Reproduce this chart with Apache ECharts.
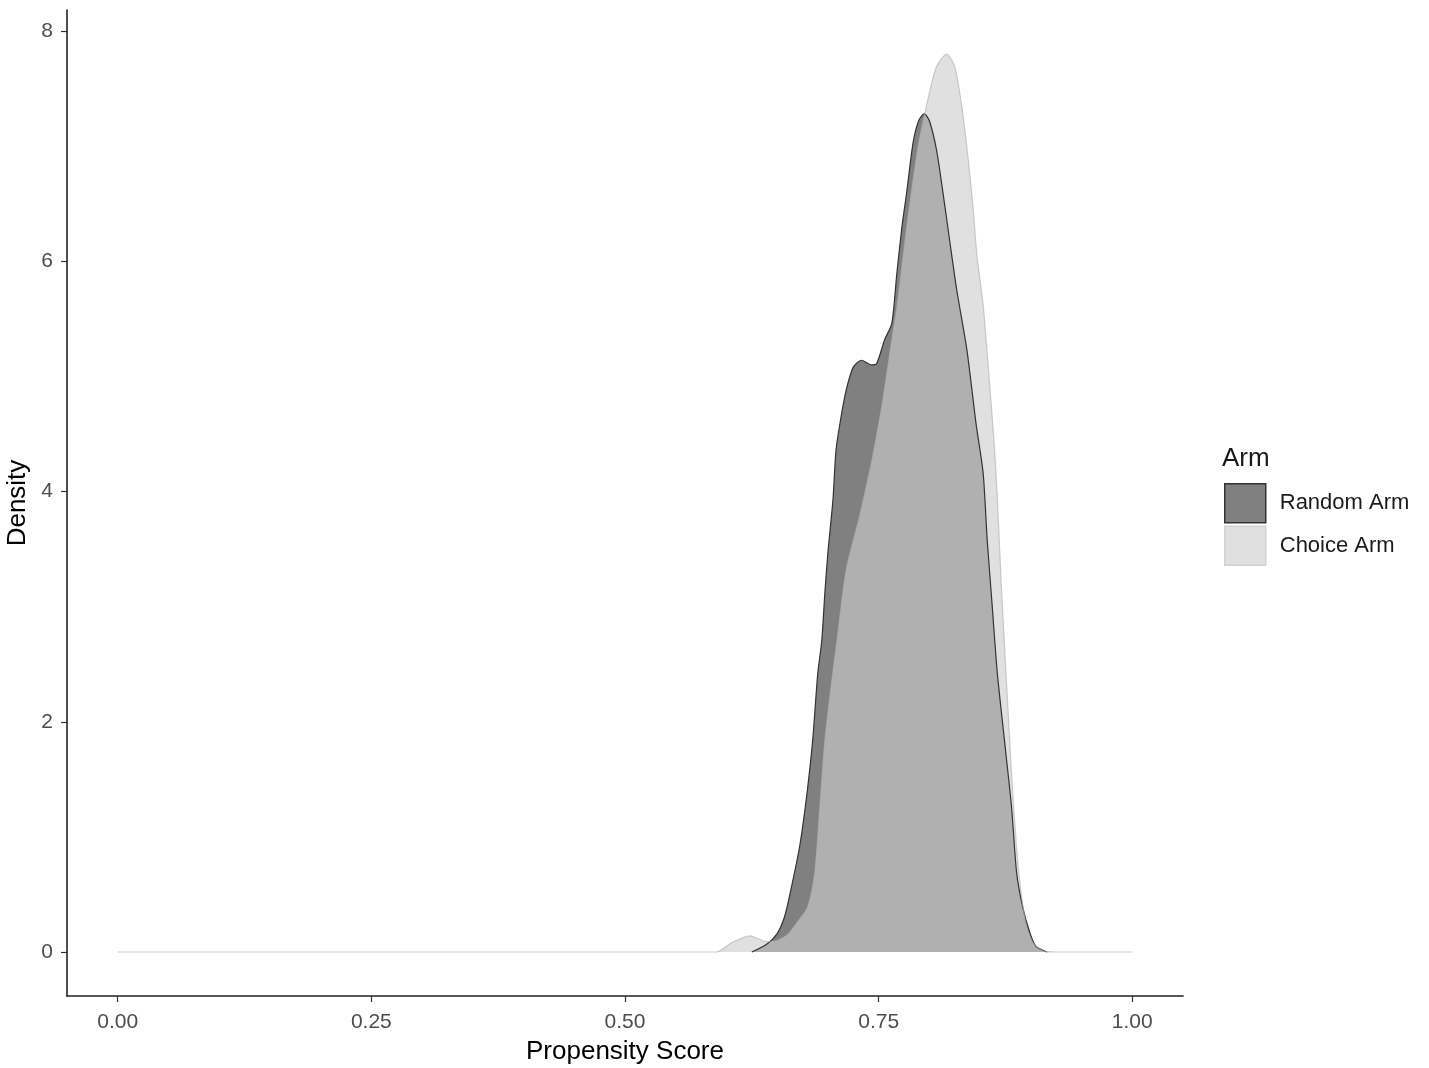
<!DOCTYPE html>
<html>
<head>
<meta charset="utf-8">
<script src="https://cdn.jsdelivr.net/npm/echarts@6/dist/echarts.min.js"></script>
<style>
  html, body { margin: 0; padding: 0; background: #fff; }
  #chart { width: 1429px; height: 1068px; }
</style>
</head>
<body>
<div id="chart"></div>
<script>
// density curves (x = propensity score, y = density)
const randomX = [0.625, 0.640, 0.650, 0.657, 0.662, 0.672, 0.679, 0.685, 0.690, 0.694, 0.697, 0.700, 0.705, 0.708, 0.713, 0.718, 0.725, 0.733, 0.743, 0.748, 0.756, 0.763, 0.768, 0.773, 0.778, 0.782, 0.785, 0.790, 0.795, 0.800, 0.807, 0.813, 0.820, 0.827, 0.837, 0.846, 0.853, 0.857, 0.862, 0.867, 0.874, 0.881, 0.886, 0.892, 0.899, 0.905, 0.916];
const randomY = [0, 0.07, 0.16, 0.30, 0.48, 0.91, 1.35, 1.84, 2.42, 2.71, 3.12, 3.47, 3.93, 4.36, 4.65, 4.88, 5.08, 5.14, 5.10, 5.11, 5.32, 5.46, 5.90, 6.30, 6.62, 6.91, 7.08, 7.23, 7.28, 7.22, 6.97, 6.62, 6.18, 5.75, 5.23, 4.59, 4.16, 3.58, 3.00, 2.42, 1.84, 1.26, 0.69, 0.39, 0.17, 0.05, 0];

const choiceX = [0, 0.590, 0.605, 0.623, 0.640, 0.650, 0.660, 0.669, 0.680, 0.687, 0.692, 0.697, 0.703, 0.709, 0.718, 0.731, 0.744, 0.754, 0.763, 0.768, 0.776, 0.784, 0.790, 0.800, 0.807, 0.817, 0.825, 0.832, 0.838, 0.843, 0.847, 0.853, 0.857, 0.861, 0.864, 0.867, 0.869, 0.872, 0.876, 0.881, 0.886, 0.890, 0.895, 0.902, 0.912, 0.925, 1.0];
const choiceY = [0, 0, 0.08, 0.14, 0.09, 0.10, 0.15, 0.25, 0.39, 0.69, 1.26, 1.84, 2.30, 2.71, 3.32, 3.78, 4.30, 4.79, 5.32, 5.60, 6.18, 6.71, 7.05, 7.46, 7.69, 7.80, 7.69, 7.34, 6.91, 6.47, 6.04, 5.62, 5.20, 4.75, 4.40, 3.95, 3.55, 3.00, 2.35, 1.55, 0.90, 0.55, 0.25, 0.08, 0.01, 0, 0];

const xTicks = [0, 0.25, 0.5, 0.75, 1];
const yTicks = [0, 2, 4, 6, 8];
const seriesNames = ['Random Arm', 'Choice Arm'];

const font = 'Arial, "Liberation Sans", sans-serif';
const zip = (xs, ys) => xs.map((x, i) => [x, ys[i]]);

const chart = echarts.init(document.getElementById('chart'));
chart.setOption({
  animation: false,
  backgroundColor: '#fff',
  grid: { left: 67, right: 246, top: 10, bottom: 72, containLabel: false, outerBoundsMode: 'none' },
  title: {
    text: 'Arm', left: 1222, top: 446, padding: 0,
    textStyle: { fontFamily: font, fontSize: 26, fontWeight: 'normal', color: '#1a1a1a' }
  },
  legend: {
    orient: 'vertical', left: 1224, top: 483, padding: 0,
    itemWidth: 41, itemHeight: 39, itemGap: 2,
    textStyle: { fontFamily: font, fontSize: 22, color: '#1a1a1a', padding: [5, 0, 0, 9] },
    data: [
      { name: seriesNames[0], icon: 'rect', itemStyle: { color: '#808080', borderColor: '#333', borderWidth: 1.5 } },
      { name: seriesNames[1], icon: 'rect', itemStyle: { color: '#e0e0e0', borderColor: '#d2d2d2', borderWidth: 1.5 } }
    ]
  },
  xAxis: {
    type: 'value', min: -0.05, max: 1.05,
    name: 'Propensity Score', nameLocation: 'middle', nameGap: 43,
    nameTextStyle: { fontFamily: font, fontSize: 26, color: '#000' },
    splitLine: { show: false },
    axisLine: { onZero: false, lineStyle: { color: '#222', width: 1.6 } },
    axisTick: { customValues: xTicks, length: 6, lineStyle: { color: '#333', width: 1.2 } },
    axisLabel: { customValues: xTicks, margin: 16, fontFamily: font, fontSize: 21, color: '#4d4d4d',
      formatter: v => v.toFixed(2) }
  },
  yAxis: {
    type: 'value', min: -0.382, max: 8.182,
    name: 'Density', nameLocation: 'middle', nameGap: 32, nameRotate: 90,
    nameTextStyle: { fontFamily: font, fontSize: 26, color: '#000' },
    splitLine: { show: false },
    axisLine: { show: true, onZero: false, lineStyle: { color: '#222', width: 1.6 } },
    axisTick: { customValues: yTicks, length: 6, lineStyle: { color: '#333', width: 1.2 } },
    axisLabel: { customValues: yTicks, margin: 14, fontFamily: font, fontSize: 21, color: '#4d4d4d' }
  },
  series: [
    {
      name: seriesNames[0], type: 'line', data: zip(randomX, randomY),
      showSymbol: false, smooth: 0.25,
      itemStyle: { color: '#808080' },
      lineStyle: { color: '#333', width: 1.2 },
      areaStyle: { color: '#808080', opacity: 1 }
    },
    {
      name: seriesNames[1], type: 'line', data: zip(choiceX, choiceY),
      showSymbol: false, smooth: 0.25,
      itemStyle: { color: '#e0e0e0' },
      lineStyle: { color: 'rgba(175,175,175,0.62)', width: 1.2 },
      areaStyle: { color: 'rgba(205,205,205,0.62)', opacity: 1 }
    }
  ]
});
</script>
</body>
</html>
